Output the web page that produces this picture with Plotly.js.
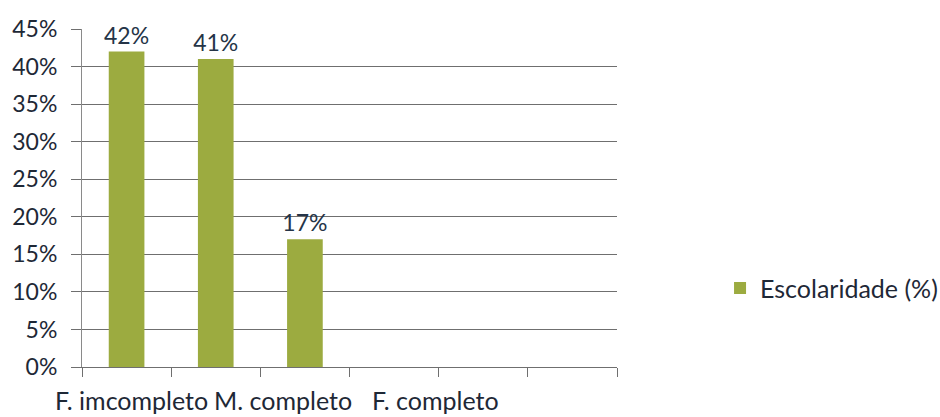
<!DOCTYPE html>
<html>
<head>
<meta charset="utf-8">
<script src="https://cdn.plot.ly/plotly-3.0.1.min.js"></script>
<style>html,body{margin:0;padding:0;background:#fff;}#chart{width:940px;height:417px;}</style>
</head>
<body>
<div id="chart"></div>
<script>
const categories = ["F. imcompleto", "M. completo", "F. completo", " ", "  ", "   "];
const values = [42, 41, 17, null, null, null];
const labels = ["42%", "41%", "17%", "", "", ""];
const seriesName = "Escolaridade (%)";

// the reference prints the category names as a loose line under the axis,
// not centred on the bars; these are the horizontal centres (paper fraction)
const catLabelX = [0.0916, 0.3766, 0.6607];

const namedCats = categories.filter(c => c.trim() !== "");

const trace = {
  type: "bar",
  x: categories,
  y: values,
  name: seriesName,
  text: labels,
  textposition: "outside",
  constraintext: "none",
  cliponaxis: false,
  textfont: {family: "Lato, sans-serif", size: 23, color: "#253447"},
  marker: {color: "#9cab40"},
  showlegend: true
};

const layout = {
  width: 940, height: 417,
  margin: {l: 82, r: 323, t: 29, b: 50, autoexpand: false},
  paper_bgcolor: "#fff", plot_bgcolor: "#fff",
  bargap: 0.6,
  font: {family: "Lato, sans-serif", size: 16, color: "#222"},
  xaxis: {
    type: "category",
    tickson: "boundaries",
    tickangle: 0,
    automargin: false,
    showticklabels: false,
    ticks: "outside", ticklen: 9, tickcolor: "#6f6f6f",
    showline: true, linecolor: "#6f6f6f", linewidth: 1,
    showgrid: false
  },
  yaxis: {
    range: [0, 45], dtick: 5, ticksuffix: "%",
    automargin: false,
    showgrid: true, gridcolor: "#6f6f6f", gridwidth: 1,
    ticks: "outside", ticklen: 10, tickcolor: "#6f6f6f",
    ticklabelstandoff: 9,
    showline: true, linecolor: "#8a8a8a", linewidth: 1,
    zeroline: false,
    tickfont: {family: "Lato, sans-serif", size: 23, color: "#1e2836"}
  },
  legend: {
    xref: "container", yref: "container",
    x: 0.766, xanchor: "left", y: 0.309, yanchor: "middle",
    font: {family: "Lato, sans-serif", size: 25, color: "#1e2836"},
    itemwidth: 30
  },
  annotations: namedCats.map((name, i) => ({
    xref: "paper", yref: "paper",
    x: catLabelX[i], xanchor: "center",
    y: -0.098, yanchor: "middle",
    text: name,
    showarrow: false,
    font: {family: "Lato, sans-serif", size: 25, color: "#1e2836"}
  }))
};

Plotly.newPlot("chart", [trace], layout, {displayModeBar: false, staticPlot: true});
</script>
</body>
</html>
